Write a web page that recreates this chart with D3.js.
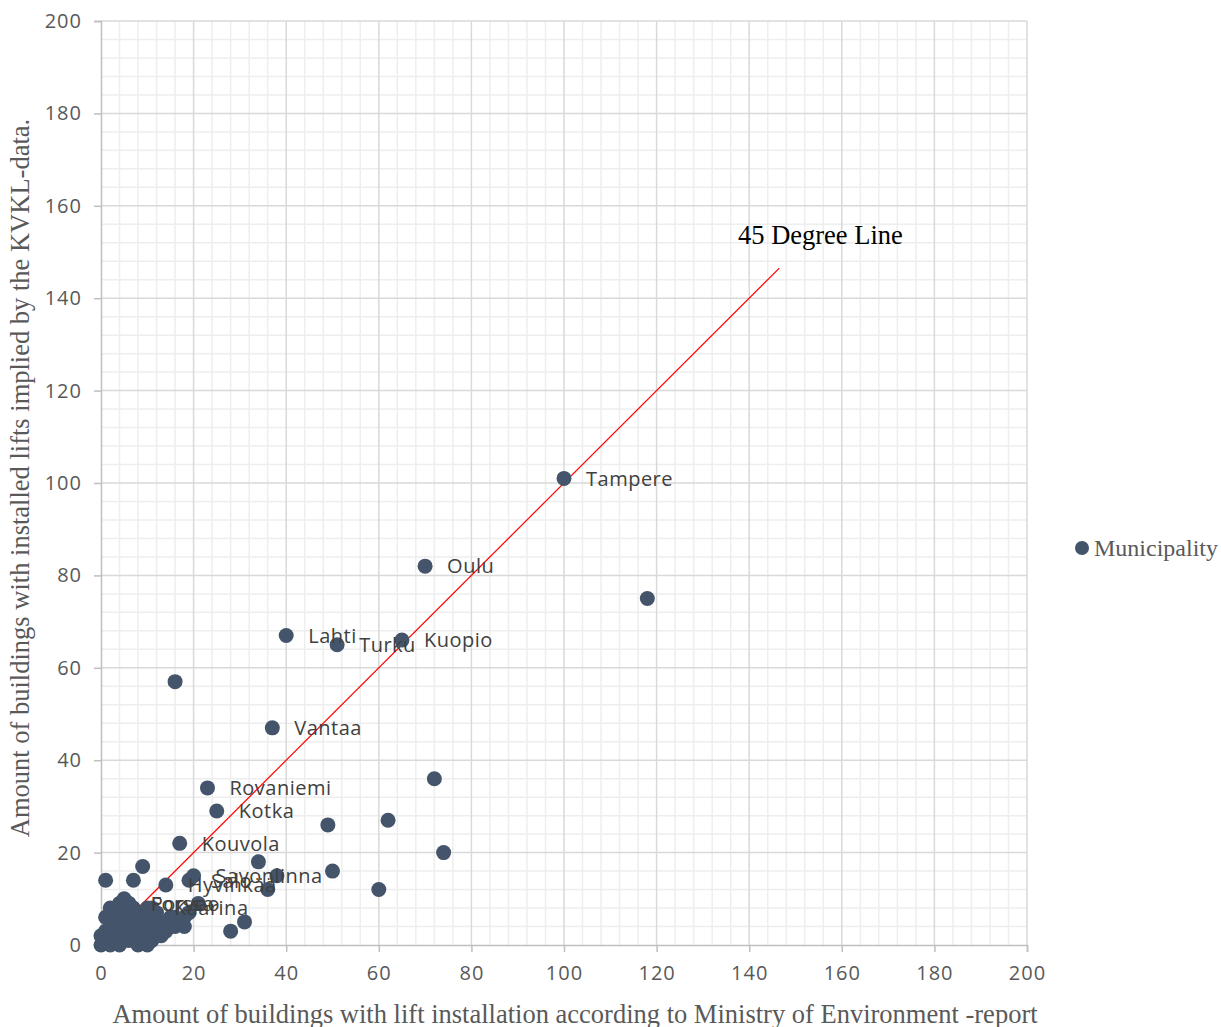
<!DOCTYPE html>
<html>
<head>
<meta charset="utf-8">
<script src="https://cdn.jsdelivr.net/npm/d3@7/dist/d3.min.js"></script>
<style>
  html, body { margin: 0; padding: 0; background: #fff; }
  svg { display: block; }
</style>
</head>
<body>
<svg id="chart" width="1221" height="1027"></svg>
<script>
// Named municipalities (ministry report count, KVKL-implied count)
const labelNames = ["Tampere", "Oulu", "Lahti", "Turku", "Kuopio", "Vantaa", "Rovaniemi", "Kotka",
                    "Kouvola", "Salo", "Savonlinna", "Hyvinkää", "Porvoo", "Forssa", "Kaarina"];
const labelX = [100, 70, 40, 51, 65, 37, 23, 25, 17, 19, 20, 14, 6, 6, 11];
const labelY = [101, 82, 67, 65, 66, 47, 34, 29, 22, 14, 15, 13, 9, 9, 8];

// Remaining municipalities without a label
const otherX = [118, 16, 72, 49, 62, 74, 34, 38, 50, 60, 36, 31, 28, 9, 1, 7,
                0, 1, 2, 3, 4, 5, 6, 8, 9, 10, 11, 1, 2, 0, 3, 4, 5, 6, 7, 8, 9, 10, 11, 12,
                13, 14, 15, 16, 18, 17, 15, 18, 12, 10, 8, 7, 6, 5, 3, 1, 2, 4, 5, 7, 8, 10,
                12, 11, 14, 3, 2, 9, 13, 16, 21, 19];
const otherY = [75, 57, 36, 26, 27, 20, 18, 15, 16, 12, 12, 5, 3, 17, 14, 14,
                0, 1, 0, 1, 0, 2, 1, 0, 1, 0, 1, 3, 4, 2, 3, 2, 4, 3, 2, 3, 3, 2, 3, 2,
                4, 3, 4, 4, 4, 5, 6, 6, 5, 5, 6, 5, 6, 7, 6, 6, 8, 9, 10, 8, 7, 8,
                7, 6, 5, 5, 2, 5, 2, 6, 9, 7];

const axisTicks = [0, 20, 40, 60, 80, 100, 120, 140, 160, 180, 200];
const minorTicks = d3.range(0, 201, 4);
const diagonalEnd = 146.5;

const axisTitleX = "Amount of buildings with lift installation according to Ministry of Environment -report";
const axisTitleY = "Amount of buildings with installed lifts implied by the KVKL-data.";
const lineLabel = "45 Degree Line";
const legendLabel = "Municipality";

const svg = d3.select("#chart");
const plotLeft = 101, plotRight = 1027, plotTop = 21, plotBottom = 945;

const x = d3.scaleLinear().domain([0, 200]).range([plotLeft, plotRight]);
const y = d3.scaleLinear().domain([0, 200]).range([plotBottom, plotTop]);

const markerColor = "#44546a";
const textColor = "#595959";
const serif = "'Liberation Serif', 'Times New Roman', serif";
const sans = "'Open Sans', sans-serif";

// minor grid
const grid = svg.append("g");
const minorOnly = minorTicks.filter(t => t % 20 !== 0);
grid.append("g").selectAll("line").data(minorOnly).join("line")
  .attr("x1", d => x(d)).attr("x2", d => x(d)).attr("y1", plotTop).attr("y2", plotBottom)
  .attr("stroke", "#eeeeee").attr("stroke-width", 1.5);
grid.append("g").selectAll("line").data(minorOnly).join("line")
  .attr("y1", d => y(d)).attr("y2", d => y(d)).attr("x1", plotLeft).attr("x2", plotRight)
  .attr("stroke", "#eeeeee").attr("stroke-width", 1.5);

// major grid
grid.append("g").selectAll("line").data(axisTicks.slice(1)).join("line")
  .attr("x1", d => x(d)).attr("x2", d => x(d)).attr("y1", plotTop).attr("y2", plotBottom)
  .attr("stroke", "#d9d9d9").attr("stroke-width", 1.5);
grid.append("g").selectAll("line").data(axisTicks.slice(1)).join("line")
  .attr("y1", d => y(d)).attr("y2", d => y(d)).attr("x1", plotLeft).attr("x2", plotRight)
  .attr("stroke", "#d9d9d9").attr("stroke-width", 1.5);

// axes
const xAxis = d3.axisBottom(x).tickValues(axisTicks).tickSize(7).tickPadding(14);
const yAxis = d3.axisLeft(y).tickValues(axisTicks).tickSize(7).tickPadding(12);

const gx = svg.append("g").attr("transform", `translate(0,${plotBottom})`).call(xAxis);
const gy = svg.append("g").attr("transform", `translate(${plotLeft},0)`).call(yAxis);
[gx, gy].forEach(g => {
  g.select(".domain").attr("stroke", "#bfbfbf").attr("stroke-width", 1.5);
  g.selectAll(".tick line").attr("stroke", "#bfbfbf").attr("stroke-width", 1.5);
  g.selectAll(".tick text").attr("fill", textColor)
    .style("font-family", sans).style("font-size", "20px").style("letter-spacing", "1px");
});

// 45 degree line
svg.append("line")
  .attr("x1", x(0)).attr("y1", y(0)).attr("x2", x(diagonalEnd)).attr("y2", y(diagonalEnd))
  .attr("stroke", "#ff0000").attr("stroke-width", 1.2);

svg.append("text")
  .attr("x", 738).attr("y", 244)
  .attr("fill", "#000")
  .style("font-family", serif).style("font-size", "26.5px")
  .text(lineLabel);

// points
const others = otherX.map((v, i) => ({ x: v, y: otherY[i] }));
const labelled = labelX.map((v, i) => ({ x: v, y: labelY[i], name: labelNames[i] }));

svg.append("g").selectAll("circle").data(others.concat(labelled)).join("circle")
  .attr("cx", d => x(d.x)).attr("cy", d => y(d.y)).attr("r", 7.5)
  .attr("fill", markerColor);

// point labels
svg.append("g").selectAll("text").data(labelled).join("text")
  .attr("x", d => x(d.x) + 22).attr("y", d => y(d.y))
  .attr("dy", "0.36em")
  .attr("fill", "#404040")
  .style("font-family", sans).style("font-size", "20px").style("letter-spacing", "0.5px")
  .text(d => d.name);

// axis titles
svg.append("text")
  .attr("x", 575).attr("y", 1023).attr("text-anchor", "middle")
  .attr("fill", textColor)
  .style("font-family", serif).style("font-size", "26.5px")
  .text(axisTitleX);

svg.append("text")
  .attr("transform", "translate(29,478) rotate(-90)")
  .attr("text-anchor", "middle")
  .attr("fill", textColor)
  .style("font-family", serif).style("font-size", "26.5px")
  .text(axisTitleY);

// legend
svg.append("circle").attr("cx", 1082).attr("cy", 548).attr("r", 7).attr("fill", markerColor);
svg.append("text")
  .attr("x", 1094).attr("y", 548).attr("dy", "0.33em")
  .attr("fill", textColor)
  .style("font-family", serif).style("font-size", "24px")
  .text(legendLabel);
</script>
</body>
</html>
